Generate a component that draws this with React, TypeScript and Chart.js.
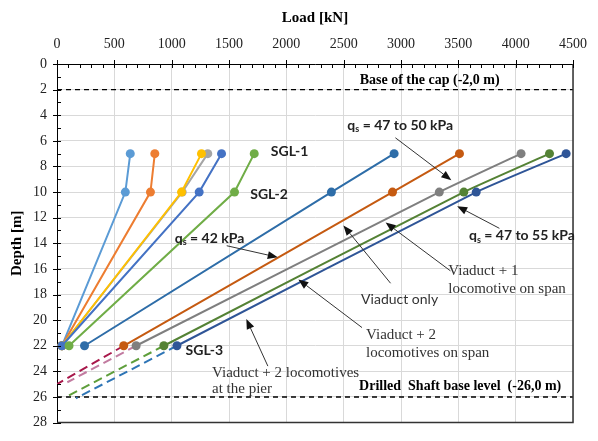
import React, { useEffect, useRef } from 'react';
import { Chart, registerables } from 'chart.js';

Chart.register(...registerables);

// ---- data ----
const depthLevels = [22, 10, 7];

const sgl1LightBlue = [43, 596, 639];
const sgl1Orange = [43, 815, 853];
const sgl1Gray = [43, 1092, 1315];
const sgl1Yellow = [43, 1086, 1260];
const sgl1Blue = [43, 1240, 1435];
const sgl2Green = [105, 1548, 1720];

const sgl3SteelBlue = [240, 2393, 2940];
const viaductOnly = [582, 2926, 3510];
const viaductOneLoco = [690, 3334, 4047];
const viaductTwoLocoSpan = [932, 3548, 4295];
const viaductTwoLocoPier = [1046, 3656, 4440];

const extViaductOnly = [[582, 22], [0, 25]];
const extOneLoco = [[690, 22], [90, 24.85]];
const extTwoSpan = [[932, 22], [68, 26.05]];
const extTwoPier = [[1046, 22], [165, 26.1]];

const capDepth = 2;
const baseDepth = 26;
const loadRange = [0, 4500];
const depthRange = [0, 28];

const arrows = [
  [1480, 14.19, 1925, 15.09],
  [2951, 5.76, 3439, 9.07],
  [3858, 12.83, 3490, 11.1],
  [2909, 17.12, 2498, 12.61],
  [3431, 16.15, 2866, 12.38],
  [2660, 20.58, 2105, 16.82],
  [1839, 23.59, 1651, 19.91],
];

const qsLabels = [
  [' = 42 kPa', 1027, 13.6],
  [' = 47 to 50 kPa', 2532, 4.8],
  [' = 47 to 55 kPa', 3593, 13.4],
];

const sglLabels = [
  ['SGL-1', 1865, 6.8],
  ['SGL-2', 1685, 10.15],
  ['SGL-3', 1121, 22.4],
];

const serifLabels = [
  ['Viaduct + 1', 3413, 16.2],
  ['locomotive on span', 3413, 17.55],
  ['Viaduct + 2', 2695, 21.2],
  ['locomotives on span', 2695, 22.6],
  ['Viaduct + 2 locomotives', 1352, 24.15],
  ['at the pier', 1352, 25.4],
];

const sansLabels = [['Viaduct only', 2652, 18.37]];

const boldLabels = [
  ['Base of the cap (-2,0 m)', 3250, 1.3],
  ['Drilled  Shaft base level  (-26,0 m)', 3516, 25.2],
];

const SANS = 'Lato, "Open Sans", sans-serif';
const SERIF = '"Liberation Serif", "Times New Roman", serif';

function pts(loads: number[]) {
  return loads.map((x, i) => ({ x, y: depthLevels[i] }));
}
function pairPts(p: number[][]) {
  return p.map(([x, y]) => ({ x, y }));
}

const overlay = {
  id: 'overlay',
  afterDatasetsDraw(chart: any) {
    const { ctx, chartArea: a, scales } = chart;
    const xs = scales.x;
    const ys = scales.y;
    const X = (v: number) => xs.getPixelForValue(v);
    const Y = (v: number) => ys.getPixelForValue(v);
    ctx.save();
    // frame
    ctx.strokeStyle = '#333';
    ctx.lineWidth = 1.5;
    ctx.beginPath();
    ctx.moveTo(a.right, a.top);
    ctx.lineTo(a.right, a.bottom);
    ctx.lineTo(a.left, a.bottom);
    ctx.stroke();
    // ticks
    ctx.strokeStyle = '#000';
    ctx.lineWidth = 1;
    for (let v = loadRange[0]; v <= loadRange[1]; v += 100) {
      const px = Math.round(X(v)) + 0.5;
      const major = v % 500 === 0;
      ctx.beginPath();
      ctx.moveTo(px, major ? a.top - 4 : a.top);
      ctx.lineTo(px, a.top + 4);
      ctx.stroke();
    }
    for (let d = depthRange[0]; d <= depthRange[1]; d += 1) {
      const py = Math.round(Y(d)) + 0.5;
      const major = d % 2 === 0;
      ctx.beginPath();
      ctx.moveTo(major ? a.left - 4 : a.left, py);
      ctx.lineTo(a.left + 4, py);
      ctx.stroke();
    }
    // arrows
    ctx.strokeStyle = '#333';
    ctx.fillStyle = '#111';
    for (const [x1, y1, x2, y2] of arrows) {
      const p1x = X(x1), p1y = Y(y1), p2x = X(x2), p2y = Y(y2);
      const ang = Math.atan2(p2y - p1y, p2x - p1x);
      const L = 10, W = 4;
      const bx = p2x - L * Math.cos(ang), by = p2y - L * Math.sin(ang);
      ctx.beginPath();
      ctx.moveTo(p1x, p1y);
      ctx.lineTo(bx, by);
      ctx.stroke();
      ctx.beginPath();
      ctx.moveTo(p2x, p2y);
      ctx.lineTo(bx + W * Math.sin(ang), by - W * Math.cos(ang));
      ctx.lineTo(bx - W * Math.sin(ang), by + W * Math.cos(ang));
      ctx.closePath();
      ctx.fill();
    }
    // texts
    ctx.textBaseline = 'middle';
    ctx.textAlign = 'left';
    ctx.fillStyle = '#222';
    for (const [t, x, y] of qsLabels as any) {
      let px = X(x);
      const py = Y(y);
      ctx.font = `bold 14px ${SANS}`;
      ctx.fillText('q', px, py);
      px += ctx.measureText('q').width;
      ctx.font = `bold 9px ${SANS}`;
      ctx.fillText('s', px, py + 4);
      px += ctx.measureText('s').width;
      ctx.font = `bold 14px ${SANS}`;
      ctx.fillText(t, px, py);
    }
    ctx.font = `bold 14px ${SANS}`;
    for (const [t, x, y] of sglLabels as any) ctx.fillText(t, X(x), Y(y));
    ctx.fillStyle = '#333';
    ctx.font = `15px ${SERIF}`;
    for (const [t, x, y] of serifLabels as any) ctx.fillText(t, X(x), Y(y));
    ctx.font = `14px ${SANS}`;
    for (const [t, x, y] of sansLabels as any) ctx.fillText(t, X(x), Y(y));
    ctx.fillStyle = '#000';
    ctx.textAlign = 'center';
    ctx.font = `bold 14px ${SERIF}`;
    for (const [t, x, y] of boldLabels as any) ctx.fillText(t, X(x), Y(y));
    ctx.restore();
  },
};

export default function App() {
  const ref = useRef<HTMLCanvasElement>(null);
  useEffect(() => {
    document.body.style.margin = '0';
    const solid = (label: string, loads: number[], color: string, tension = 0) => ({
      label,
      data: pts(loads),
      showLine: true,
      borderColor: color,
      backgroundColor: color,
      borderWidth: 2,
      pointRadius: 4.5,
      pointBorderWidth: 0,
      tension,
    });
    const dashed = (label: string, p: number[][], color: string) => ({
      label,
      data: pairPts(p),
      showLine: true,
      borderColor: color,
      backgroundColor: color,
      borderWidth: 2,
      borderDash: [9, 5],
      pointRadius: 0,
    });
    const ref2 = (label: string, d: number) => ({
      label,
      data: [{ x: loadRange[0], y: d }, { x: loadRange[1], y: d }],
      showLine: true,
      borderColor: '#000',
      borderWidth: 1.3,
      borderDash: [5, 4],
      pointRadius: 0,
    });
    const list: any[] = [
      ref2('cap', capDepth),
      ref2('base', baseDepth),
      dashed('ext viaduct only', extViaductOnly, '#A8184B'),
      dashed('ext one loco', extOneLoco, '#C27BA0'),
      dashed('ext two span', extTwoSpan, '#5E9E3B'),
      dashed('ext two pier', extTwoPier, '#2E75B6'),
      solid('SGL-1 a', sgl1LightBlue, '#5B9BD5'),
      solid('SGL-1 b', sgl1Orange, '#ED7D31'),
      solid('SGL-1 c', sgl1Gray, '#A5A5A5'),
      solid('SGL-1 d', sgl1Yellow, '#FFC000'),
      solid('SGL-1 e', sgl1Blue, '#4472C4'),
      solid('SGL-2', sgl2Green, '#70AD47'),
      solid('SGL-3', sgl3SteelBlue, '#2E6DA8'),
      solid('Viaduct only', viaductOnly, '#C55A11'),
      solid('Viaduct + 1 locomotive', viaductOneLoco, '#7F7F7F', 0.15),
      solid('Viaduct + 2 locomotives on span', viaductTwoLocoSpan, '#548235', 0.15),
      solid('Viaduct + 2 locomotives at the pier', viaductTwoLocoPier, '#2F5597', 0.15),
    ];
    list.forEach((d, i) => (d.order = list.length - i));
    const chart = new Chart(ref.current!, {
      type: 'scatter',
      data: { datasets: list },
      plugins: [overlay],
      options: {
        animation: false,
        responsive: false,
        layout: { padding: { left: 0, top: 0, right: 15, bottom: 5 } },
        plugins: { legend: { display: false }, tooltip: { enabled: false } },
        scales: {
          x: {
            type: 'linear',
            position: 'top',
            min: loadRange[0],
            max: loadRange[1],
            afterFit: (s: any) => { s.height = 64; },
            ticks: {
              stepSize: 500,
              padding: 11,
              color: '#222',
              font: { family: SERIF, size: 14 },
              autoSkip: false,
              maxRotation: 0,
              callback: (v: any) => String(v),
            },
            grid: { color: '#d9d9d9', drawTicks: false, lineWidth: 1 },
            border: { display: true, color: '#000', width: 1 },
            title: {
              display: true,
              text: 'Load [kN]',
              color: '#000',
              font: { family: SERIF, size: 15, weight: 'bold' },
              padding: { top: 9, bottom: 0 },
            },
          },
          y: {
            type: 'linear',
            reverse: true,
            min: depthRange[0],
            max: depthRange[1],
            afterFit: (s: any) => { s.width = 57; },
            ticks: {
              stepSize: 2,
              padding: 10,
              color: '#222',
              font: { family: SERIF, size: 14 },
              autoSkip: false,
              callback: (v: any) => String(v),
            },
            grid: { color: '#d9d9d9', drawTicks: false, lineWidth: 1 },
            border: { display: true, color: '#000', width: 1 },
            title: {
              display: true,
              text: 'Depth [m]',
              color: '#000',
              font: { family: SERIF, size: 15, weight: 'bold' },
              padding: { top: 8, bottom: 0 },
            },
          },
        },
      } as any,
    });
    return () => chart.destroy();
  }, []);
  return (
    <div style={{ width: 598, height: 441 }}>
      <canvas ref={ref} width={598} height={441} style={{ display: 'block' }} />
    </div>
  );
}
